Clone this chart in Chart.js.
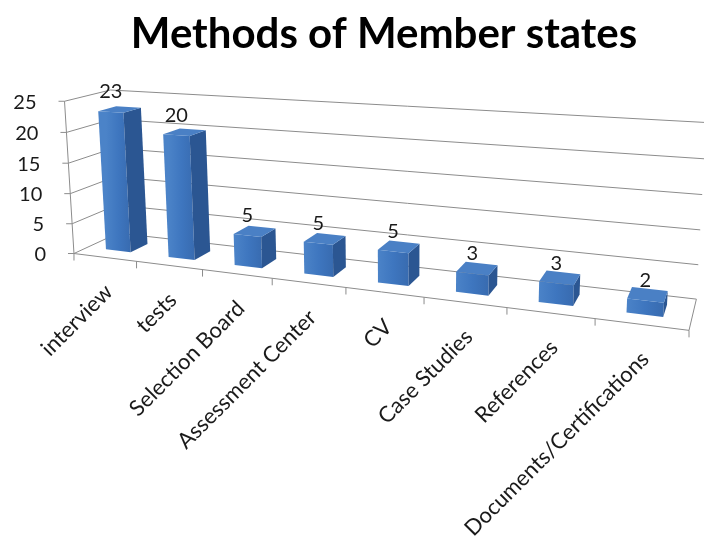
<!DOCTYPE html>
<html>
<head>
<meta charset="utf-8">
<script src="https://cdn.jsdelivr.net/npm/chart.js"></script>
<style>
  body { margin: 0; background: #fff; }
</style>
</head>
<body>
<canvas id="chart" width="704" height="538"></canvas>
<script>
// data
const categories = ['interview', 'tests', 'Selection Board', 'Assessment Center', 'CV', 'Case Studies', 'References', 'Documents/Certifications'];
const values = [23, 20, 5, 5, 5, 3, 3, 2];
const yTicks = [0, 5, 10, 15, 20, 25];
const yMax = 25;

// where the corners of the 3d box land on screen: [X(category units), Y(value), Z(0 front..1 back), px, py]
const frameAnchors = [
  [0, 0, 0, 75, 253.6],
  [2, 0, 0, 203, 269.4],
  [4, 0, 0, 345, 286.8],
  [6, 0, 0, 507, 306.8],
  [8, 0, 0, 690, 330],
  [0, 25, 0, 63, 103],
  [0, 0, 1, 117, 234],
  [0, 25, 1, 112, 88],
  [8, 0, 1, 696, 300],
  [8, 25, 1, 706, 123]
];

const FONT = 'Lato, "Open Sans", sans-serif';
const lineColor = '#8c8c8c';

// least squares camera matrix (DLT) from the anchors
function solveCamera(pairs) {
  const A = [], b = [];
  pairs.forEach(([X, Y, Z, u, v]) => {
    A.push([X, Y, Z, 1, 0, 0, 0, 0, -u * X, -u * Y, -u * Z]); b.push(u);
    A.push([0, 0, 0, 0, X, Y, Z, 1, -v * X, -v * Y, -v * Z]); b.push(v);
  });
  const n = 11;
  const M = [];
  for (let i = 0; i < n; i++) M.push(new Array(n + 1).fill(0));
  for (let r = 0; r < A.length; r++) {
    for (let i = 0; i < n; i++) {
      for (let j = 0; j < n; j++) M[i][j] += A[r][i] * A[r][j];
      M[i][n] += A[r][i] * b[r];
    }
  }
  for (let c = 0; c < n; c++) {
    let p = c;
    for (let r = c + 1; r < n; r++) if (Math.abs(M[r][c]) > Math.abs(M[p][c])) p = r;
    const tmp = M[c]; M[c] = M[p]; M[p] = tmp;
    for (let r = 0; r < n; r++) {
      if (r === c) continue;
      const f = M[r][c] / M[c][c];
      for (let k = c; k <= n; k++) M[r][k] -= f * M[c][k];
    }
  }
  return M.map((row, i) => row[n] / row[i]);
}

const P = solveCamera(frameAnchors);
function proj(X, Y, Z) {
  const w = P[8] * X + P[9] * Y + P[10] * Z + 1;
  return [(P[0] * X + P[1] * Y + P[2] * Z + P[3]) / w, (P[4] * X + P[5] * Y + P[6] * Z + P[7]) / w];
}

function line(ctx, a, b) {
  ctx.beginPath();
  ctx.moveTo(a[0], a[1]);
  ctx.lineTo(b[0], b[1]);
  ctx.stroke();
}

function poly(ctx, pts, fill) {
  ctx.beginPath();
  pts.forEach((p, i) => i ? ctx.lineTo(p[0], p[1]) : ctx.moveTo(p[0], p[1]));
  ctx.closePath();
  ctx.fillStyle = fill;
  ctx.fill();
}

// draws walls, grid, boxes and labels in perspective from the chart's own scales
const box3d = {
  id: 'box3d',
  afterDraw(chart) {
    const ctx = chart.ctx;
    const xs = chart.scales.x, ys = chart.scales.y;
    const n = categories.length;
    const wx = px => (px - xs.left) / (xs.right - xs.left) * n;
    const zFront = 0.3, zBack = 0.7;

    ctx.save();
    ctx.lineWidth = 1;
    ctx.strokeStyle = lineColor;

    // grid on side wall and back wall
    ys.ticks.forEach(t => {
      line(ctx, proj(0, t.value, 0), proj(0, t.value, 1));
      line(ctx, proj(0, t.value, 1), proj(n, t.value, 1));
    });
    // floor edges
    line(ctx, proj(0, 0, 0), proj(n, 0, 0));
    line(ctx, proj(n, 0, 0), proj(n, 0, 1));
    // value axis
    line(ctx, proj(0, 0, 0), proj(0, yMax, 0));
    ys.ticks.forEach(t => {
      const p = proj(0, t.value, 0);
      line(ctx, p, [p[0] - 6, p[1]]);
    });
    // category ticks
    for (let i = 0; i <= n; i++) {
      const p = proj(i, 0, 0);
      line(ctx, p, [p[0], p[1] + 7]);
    }

    // bars
    const meta = chart.getDatasetMeta(0);
    meta.data.forEach((bar, i) => {
      const X0 = wx(bar.x - bar.width / 2), X1 = wx(bar.x + bar.width / 2);
      const Yv = ys.getValueForPixel(bar.y), Y0 = ys.getValueForPixel(bar.base);
      const f = [proj(X0, Y0, zFront), proj(X1, Y0, zFront), proj(X1, Yv, zFront), proj(X0, Yv, zFront)];
      const s = [proj(X1, Y0, zFront), proj(X1, Y0, zBack), proj(X1, Yv, zBack), proj(X1, Yv, zFront)];
      const tp = [proj(X0, Yv, zFront), proj(X1, Yv, zFront), proj(X1, Yv, zBack), proj(X0, Yv, zBack)];
      const g = ctx.createLinearGradient(f[0][0], 0, f[1][0], 0);
      g.addColorStop(0, '#4b83c8');
      g.addColorStop(0.5, '#3e76bf');
      g.addColorStop(1, '#386bb0');
      poly(ctx, f, g);
      poly(ctx, s, '#2b5692');
      poly(ctx, tp, '#4a80c5');

      // value label
      const lp = proj((X0 + X1) / 2, Yv, zFront);
      ctx.fillStyle = '#1a1a1a';
      ctx.font = '20px ' + FONT;
      ctx.textAlign = 'center';
      ctx.textBaseline = 'bottom';
      ctx.fillText(String(values[i]), lp[0], lp[1] - 10);
    });

    // value axis labels
    ctx.fillStyle = '#1a1a1a';
    ctx.font = '20px ' + FONT;
    ctx.textAlign = 'right';
    ctx.textBaseline = 'middle';
    ys.ticks.forEach(t => {
      const p = proj(0, t.value, 0);
      ctx.fillText(t.label, p[0] - 28, p[1] + 1);
    });

    // category labels, rotated 45deg
    ctx.font = '22px ' + FONT;
    ctx.textAlign = 'right';
    ctx.textBaseline = 'middle';
    categories.forEach((c, i) => {
      const p = proj(wx(xs.getPixelForValue(i)), 0, 0);
      ctx.save();
      ctx.translate(p[0] + 4, p[1] + 31);
      ctx.rotate(-Math.PI / 4);
      ctx.fillText(c, 0, 0);
      ctx.restore();
    });
    ctx.restore();
  }
};

new Chart(document.getElementById('chart'), {
  type: 'bar',
  data: {
    labels: categories,
    datasets: [{
      data: values,
      backgroundColor: 'rgba(0,0,0,0)',
      borderWidth: 0,
      barPercentage: 0.5,
      categoryPercentage: 0.8
    }]
  },
  options: {
    responsive: false,
    animation: false,
    events: [],
    layout: { padding: { left: 64, right: 0, top: 0, bottom: 0 } },
    plugins: {
      legend: { display: false },
      tooltip: { enabled: false },
      title: {
        display: true,
        text: 'Methods of Member states',
        color: '#000',
        font: { family: FONT, size: 42, weight: 'bold' },
        padding: { top: 9, bottom: 10 }
      }
    },
    scales: {
      x: { display: false },
      y: { display: false, min: 0, max: yMax, ticks: { stepSize: 5 } }
    }
  },
  plugins: [box3d]
});
</script>
</body>
</html>
